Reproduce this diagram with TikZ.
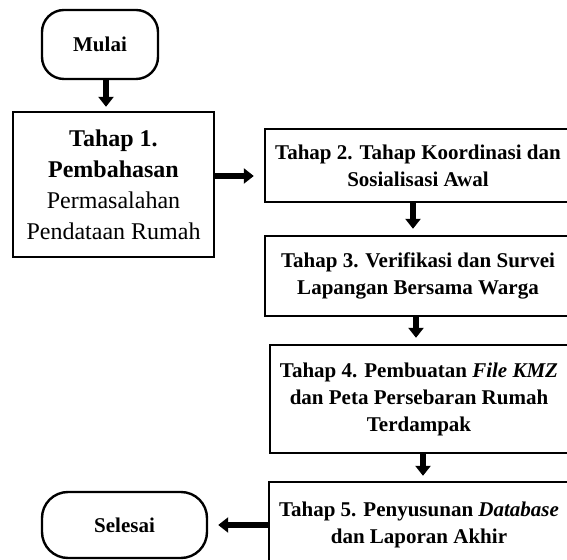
\documentclass[tikz,border=0pt]{standalone}
\usepackage{fontspec}
\setmainfont{Liberation Serif}
\usetikzlibrary{arrows.meta}

\begin{document}
\begin{tikzpicture}
[
	x=0.5pt, y=-0.5pt,
	terminal/.style={draw,line width=1.2pt,rounded corners=11pt,align=center,inner sep=0pt,font=\fontsize{10.5}{13.5}\selectfont\bfseries},
	stepbox/.style={draw,line width=1.2pt,align=center,inner sep=0pt,font=\fontsize{10.5}{13.5}\selectfont\bfseries},
	flowarrow/.style={line width=3pt,-{Triangle[length=5pt,width=7.5pt]}}
]

	% frame
	\path[use as bounding box,clip] (0,0) rectangle (567,560);

	% start and end
	\node[terminal,minimum width=58pt,minimum height=34.5pt] (mulai) at (100,44.5) {Mulai};
	\node[terminal,rounded corners=13pt,minimum width=82.5pt,minimum height=33pt] (selesai) at (124.5,525) {Selesai};

	% steps
	\node[stepbox,minimum width=100.5pt,minimum height=72.5pt,font=\fontsize{12}{15.5}\selectfont]
	  (tahap1) at (113.5,184.5) {\textbf{Tahap 1.}\\ \textbf{Pembahasan}\\ Permasalahan\\ Pendataan Rumah};
	\node[stepbox,minimum width=153pt,minimum height=36.5pt]
	  (tahap2) at (418,165.5) {Tahap 2. Tahap Koordinasi dan\\ Sosialisasi Awal};
	\node[stepbox,minimum width=153pt,minimum height=40pt]
	  (tahap3) at (418,276) {Tahap 3. Verifikasi dan Survei\\ Lapangan Bersama Warga};
	\node[stepbox,minimum width=149pt,minimum height=54pt]
	  (tahap4) at (419,399) {Tahap 4. Pembuatan \textit{File KMZ}\\ dan Peta Persebaran Rumah\\ Terdampak};
	\node[stepbox,minimum width=150pt,minimum height=43pt]
	  (tahap5) at (419,525) {Tahap 5. Penyusunan \textit{Database}\\ dan Laporan Akhir};

	% arrows
	\draw[flowarrow,shorten >=2pt] ([xshift=3pt]mulai.south) -- ([xshift=3pt]mulai.south |- tahap1.north);
	\draw[flowarrow,shorten >=5pt] ([yshift=4.25pt]tahap1.east) -- ([yshift=4.25pt]tahap1.east -| tahap2.west);
	\draw[flowarrow,shorten >=3pt] ([xshift=-2.5pt]tahap2.south) -- ([xshift=-2.5pt]tahap2.south |- tahap3.north);
	\draw[flowarrow,shorten >=3pt] ([xshift=-1pt]tahap3.south) -- ([xshift=-1pt]tahap3.south |- tahap4.north);
	\draw[flowarrow,shorten >=2.5pt] ([xshift=2pt]tahap4.south) -- ([xshift=2pt]tahap4.south |- tahap5.north);
	\draw[flowarrow,shorten >=5pt] (tahap5.west |- selesai.east) -- (selesai.east);

\end{tikzpicture}
\end{document}
